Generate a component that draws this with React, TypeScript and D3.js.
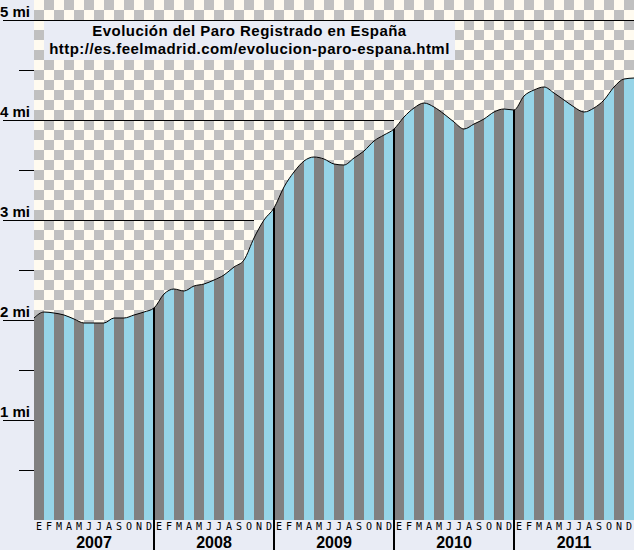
import React from "react";
import * as d3 from "d3";

// paro registrado (millones), de dic 2006 a dic 2011
const paro = [
  2.02,
  2.08, 2.07, 2.05, 2.01, 1.97, 1.97, 1.97, 2.02, 2.02, 2.05, 2.08, 2.12,
  2.26, 2.31, 2.29, 2.34, 2.36, 2.40, 2.45, 2.53, 2.60, 2.82, 3.00, 3.12,
  3.33, 3.48, 3.59, 3.63, 3.61, 3.56, 3.55, 3.62, 3.69, 3.79, 3.85, 3.91,
  4.03, 4.12, 4.17, 4.13, 4.06, 3.98, 3.91, 3.96, 4.01, 4.08, 4.11, 4.10,
  4.24, 4.30, 4.33, 4.27, 4.20, 4.13, 4.08, 4.12, 4.20, 4.33, 4.41, 4.42,
];
const years = ["2007", "2008", "2009", "2010", "2011"];
const monthLetters = ["E", "F", "M", "A", "M", "J", "J", "A", "S", "O", "N", "D"];
const majorTicks = [1, 2, 3, 4, 5];
const minorTicks = [0.5, 1.5, 2.5, 3.5, 4.5];
const titleLines = [
  "Evolución del Paro Registrado en España",
  "http://es.feelmadrid.com/evolucion-paro-espana.html",
];

const W = 634;
const H = 550;
const BG = "#e9ecf5";
const GRAY = "#808080";
const BLUE = "#96d4e7";

export default function App() {
  const nMonths = years.length * 12;
  const x = d3.scaleLinear().domain([0, nMonths]).range([34, W]);
  const y = d3.scaleLinear().domain([0, 5]).range([520, 20]);

  const area = d3.area<number>()
    .x((_, i) => x(i))
    .y0(y(0))
    .y1(d => y(d))
    .curve(d3.curveMonotoneX);
  const line = d3.line<number>()
    .x((_, i) => x(i))
    .y(d => y(d))
    .curve(d3.curveMonotoneX);

  // la linea horizontal llega hasta el ultimo punto por debajo del nivel
  const lineEnd = (level: number) => {
    const idx = paro.findIndex(v => v >= level);
    if (idx < 0) return x(nMonths);
    return x(Math.max(idx - 1, 0));
  };

  const font = "'Liberation Sans', Arial, sans-serif";

  return (
    <svg width={W} height={H} style={{ position: "absolute", left: 0, top: 0 }}>
      <defs>
        <pattern id="checker" x={34} y={0} width={20} height={20} patternUnits="userSpaceOnUse">
          <rect width={20} height={20} fill="#fffbf0" />
          <rect x={10} y={0} width={10} height={10} fill="#c0c0c0" />
          <rect x={0} y={10} width={10} height={10} fill="#c0c0c0" />
        </pattern>
        <clipPath id="areaClip">
          <path d={area(paro) ?? ""} />
        </clipPath>
      </defs>

      <rect width={W} height={H} fill={BG} />
      <rect x={x(0)} y={0} width={x(nMonths) - x(0)} height={y(0)} fill="url(#checker)" />

      {/* lineas de millon */}
      {majorTicks.map(t => (
        <line key={t} x1={3} x2={lineEnd(t)} y1={y(t) + 0.5} y2={y(t) + 0.5}
          stroke="#000" strokeWidth={1} />
      ))}
      {minorTicks.map(t => (
        <line key={t} x1={19} x2={x(0)} y1={y(t) + 0.5} y2={y(t) + 0.5}
          stroke="#000" strokeWidth={1} />
      ))}
      {majorTicks.map(t => (
        <text key={t} x={0} y={y(t) - 3} fontFamily={font} fontWeight="bold"
          fontSize={15} fill="#000">{`${t} mi`}</text>
      ))}

      {/* barras mensuales */}
      <g clipPath="url(#areaClip)">
        {d3.range(nMonths).map(i => (
          <rect key={i} x={x(i)} y={y(5)} width={x(i + 1) - x(i)} height={y(0) - y(5)}
            fill={i % 2 === 0 ? GRAY : BLUE} />
        ))}
      </g>
      <path d={line(paro) ?? ""} fill="none" stroke="#000" strokeWidth={1} />

      {/* separadores de año */}
      {years.slice(1).map((_, j) => {
        const k = (j + 1) * 12;
        return (
          <line key={k} x1={x(k)} x2={x(k)} y1={y(paro[k])} y2={H}
            stroke="#000" strokeWidth={2} />
        );
      })}

      {/* meses y años */}
      {d3.range(nMonths).map(i => (
        <text key={i} x={(x(i) + x(i + 1)) / 2} y={530} textAnchor="middle"
          fontFamily="'DejaVu Sans Mono', monospace" fontSize={10} fill="#000">
          {monthLetters[i % 12]}
        </text>
      ))}
      {years.map((yr, j) => (
        <text key={yr} x={(x(j * 12) + x(j * 12 + 12)) / 2} y={548} textAnchor="middle"
          fontFamily={font} fontWeight="bold" fontSize={16} fill="#000">{yr}</text>
      ))}

      {/* titulo */}
      <rect x={44} y={21} width={411} height={39} fill={BG} />
      {titleLines.map((t, i) => (
        <text key={i} x={249.5} y={36 + i * 18} textAnchor="middle" letterSpacing={0.45}
          fontFamily={font} fontWeight="bold" fontSize={15} fill="#000">{t}</text>
      ))}
    </svg>
  );
}
